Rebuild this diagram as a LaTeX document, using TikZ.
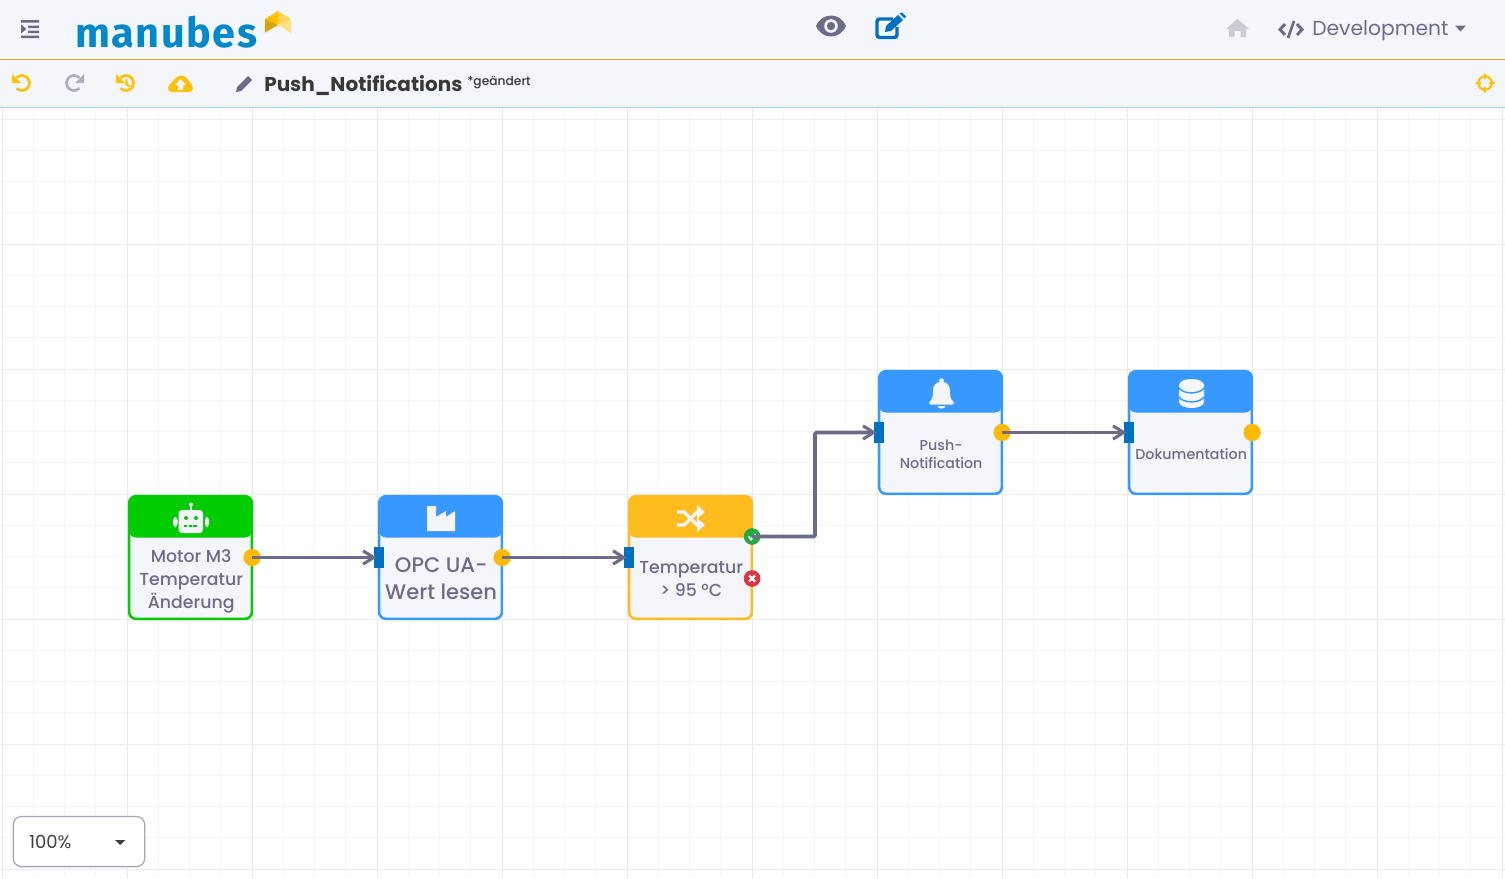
\documentclass[tikz,border=0pt]{standalone}
\usepackage{fontspec}
\setmainfont{Poppins}
\newfontfamily\medfont{Poppins Medium}
\newfontfamily\logofont[LetterSpace=3.8]{Fira Sans}
\usetikzlibrary{positioning,arrows.meta,shadows}

\definecolor{barbg}{HTML}{F4F6FB}
\definecolor{inkgrey}{HTML}{6C6C8A}
\definecolor{okgreen}{HTML}{00CC00}
\definecolor{skyblue}{HTML}{3799FF}
\definecolor{amber}{HTML}{FFBC1F}
\definecolor{portblue}{HTML}{0070C0}
\definecolor{portgold}{HTML}{FFB907}
\definecolor{iconyellow}{HTML}{FFC107}
\definecolor{logoblue}{HTML}{0088CC}
\definecolor{yesgreen}{HTML}{28A745}
\definecolor{nored}{HTML}{DC3545}

\tikzset{
  blockbox/.style={draw=#1,fill=barbg,line width=1.9pt,rounded corners=5pt,
    minimum width=92pt,minimum height=92pt,inner sep=0pt,
    path picture={\fill[#1] (path picture bounding box.north west) rectangle ([yshift=-31pt]path picture bounding box.north east);}},
  blocktext/.style 2 args={text=inkgrey,align=center,inner sep=0pt,font=\medfont\fontsize{#1}{#2}\selectfont},
  inport/.style={fill=portblue,minimum width=7.5pt,minimum height=16pt,inner sep=0pt},
  outport/.style={circle,fill=portgold,minimum size=13pt,inner sep=0pt},
  okport/.style={circle,fill=#1,minimum size=12.5pt,inner sep=0pt},
  wire/.style={draw=inkgrey,line width=2.8pt,shorten >=-2.2pt,-{Straight Barb[length=8pt,width=10pt,line width=2.3pt]}},
  bartext/.style={inner sep=0pt,anchor=base west},
}

\begin{document}
\begin{tikzpicture}[x=0.75pt,y=-0.75pt,node distance=187.5pt,on grid]
 \useasboundingbox (0,0) rectangle (1505,878);
 \fill[white] (0,0) rectangle (1505,878);

 % grid
 \foreach \k in {0,...,48} \draw[black!4,line width=0.5pt] (2+31.25*\k,108) -- (2+31.25*\k,878);
 \foreach \k in {0,...,24} \draw[black!4,line width=0.5pt] (0,119+31.25*\k) -- (1505,119+31.25*\k);
 \foreach \k in {0,...,12} \draw[black!9,line width=0.7pt] (2+125*\k,108) -- (2+125*\k,878);
 \foreach \k in {0,...,6} \draw[black!7,line width=0.7pt] (0,119+125*\k) -- (1505,119+125*\k);

 % bars
 \fill[barbg] (0,0) rectangle (1505,107.5);
 \draw[amber!90!black,line width=0.7pt] (0,59.5) -- (1505,59.5);
 \draw[skyblue!45,line width=0.8pt] (0,107.5) -- (1505,107.5);

 % menu icon
 \fill[inkgrey] (21,20) rectangle (39,22.5) (28,25.5) rectangle (39,28) (28,30.5) rectangle (39,33) (21,35.5) rectangle (39,38)
   (21,24.5) -- (26.5,29) -- (21,33.5) -- cycle;

 % logo
 \node[bartext,text=logoblue,font=\logofont\bfseries\fontsize{31}{32}\selectfont] (logo) at (75,47) {manubes};
 \fill[iconyellow] (265,19) -- (278,11) -- (278,25) -- cycle;
 \fill[iconyellow!70!white] (278,11) -- (291,19) -- (278,25) -- cycle;
 \fill[iconyellow!85!black] (265,19) -- (278,25) -- (265,32.5) -- cycle;
 \fill[iconyellow!50!white] (291,19) -- (291,33) -- (278,25) -- cycle;

 % eye and edit
 \fill[inkgrey] (816,26) .. controls (822,12) and (840,12) .. (846,26) .. controls (840,40) and (822,40) .. (816,26) -- cycle;
 \fill[barbg] (831,26) circle (6.8);
 \fill[inkgrey] (831,26) circle (4.2);
 \draw[portblue,line width=2.6pt,rounded corners=2pt] (893,19) -- (877,19) -- (877,37.5) -- (897,37.5) -- (897,27);
 \fill[portblue] (885,32) -- (886,26) -- (898,15) -- (903,20) -- (891,31) -- cycle (899.5,13.5) -- (902,12.5) -- (906,16.5) -- (904.5,18.5) -- cycle;

 % home and development
 \fill[inkgrey!35] (1226,29) -- (1237.5,19) -- (1249,29) -- (1246,29) -- (1246,37) -- (1240.5,37) -- (1240.5,31) -- (1234.5,31) -- (1234.5,37) -- (1229,37) -- (1229,29) -- cycle;
 \draw[inkgrey,line width=2.2pt] (1285,24) -- (1280,29.5) -- (1285,35) (1297,24) -- (1302,29.5) -- (1297,35);
 \draw[inkgrey,line width=2pt] (1294,21) -- (1288,38);
 \node[bartext,text=inkgrey,font=\fontsize{15.2}{18}\selectfont] (stage) at (1312,35) {Development};
 \fill[inkgrey] (1455,25.5) -- (1466,25.5) -- (1460.5,31.5) -- cycle;

 % toolbar
 \draw[iconyellow,line width=2pt] (16.7,77.7) arc[start angle=-135,end angle=135,radius=7.5];
 \fill[iconyellow] (12,74) -- (12,83) -- (21,83) -- cycle;
 \draw[inkgrey!55,line width=2pt] (79.3,77.7) arc[start angle=-45,end angle=-315,radius=7.5];
 \fill[inkgrey!55] (84,74) -- (84,83) -- (75,83) -- cycle;
 \draw[iconyellow,line width=2pt] (120.7,77.7) arc[start angle=-135,end angle=135,radius=7.5];
 \fill[iconyellow] (116,74) -- (116,83) -- (125,83) -- cycle;
 \draw[iconyellow,line width=1.6pt] (126.5,79) -- (126.5,84.5) -- (130,86.5);
 \fill[iconyellow,rounded corners=3pt] (168,92) -- (168,84) -- (174,82) -- (175,77) -- (185,75) -- (189,82) -- (193,85) -- (193,92) -- cycle;
 \fill[barbg] (180.5,79) -- (186,85) -- (183,85) -- (183,90) -- (178,90) -- (178,85) -- (175,85) -- cycle;
 \fill[inkgrey] (236,92) -- (237,87) -- (247,77) -- (248,76) -- (252,80) -- (241,91) -- cycle;
 \node[bartext,text=black!78,font=\bfseries\fontsize{15}{18}\selectfont] (title) at (264,91) {Push\_Notifications};
 \node[bartext,text=black!78,font=\medfont\fontsize{9.2}{11}\selectfont] (changed) at (467,85) {*geändert};
 \draw[iconyellow,line width=1.6pt] (1485,83) circle (6.8) (1485,73.5) -- (1485,79) (1485,87) -- (1485,92.5) (1475.5,83) -- (1481,83) (1489,83) -- (1494.5,83);

 % blocks
 \node[blockbox=okgreen] (motor) at (190.5,557.5) {};
 \node[blockbox=skyblue] (opc) [right=of motor] {};
 \node[blockbox=amber] (temp) [right=of opc] {};
 \node[blockbox=skyblue] (push) [above right=93.75pt and 187.5pt of temp] {};
 \node[blockbox=skyblue] (doku) [right=of push] {};

 \node[blocktext={13}{17.25}] (motor_text) at ([xshift=.5pt,yshift=-18pt]motor.center) {Motor M3\\Temperatur\\Änderung};
 \node[blocktext={15.8}{20}] (opc_text) at ([xshift=.5pt,yshift=-15.75pt]opc.center) {OPC UA-\\Wert lesen};
 \node[blocktext={13}{17.25}] (temp_text) at ([xshift=.5pt,yshift=-16.5pt]temp.center) {Temperatur\\> 95 °C};
 \node[blocktext={10.7}{13.5}] (push_text) at ([xshift=.5pt,yshift=-16.5pt]push.center) {Push-\\Notification};
 \node[blocktext={10.7}{13.5}] (doku_text) at ([xshift=.5pt,yshift=-16pt]doku.center) {Dokumentation};

 % robot
 \fill[barbg,rounded corners=2.5pt] (178.5,510) rectangle (203,533) (173,517) rectangle (177.5,527) (205,517) rectangle (209,527);
 \fill[barbg] (190,505) rectangle (192,510);
 \fill[barbg] (191,504.5) circle (2);
 \fill[okgreen] (186,518) circle (2) (196,518) circle (2);
 \draw[okgreen,line width=0.8pt,dash pattern=on 2.5pt off 1pt] (184,526) -- (198,526);
 % factory
 \fill[barbg] (427,531) -- (427,506) -- (436,506) -- (436,517) -- (446,511) -- (446,517) -- (455,511) -- (455,531) -- cycle;
 % shuffle
 \draw[barbg,line width=2.4pt,-{Triangle[length=6pt,width=10pt]}] (677,512) -- (684,512) -- (697,525) -- (705,525);
 \draw[barbg,line width=2.4pt,-{Triangle[length=6pt,width=10pt]}] (677,525) -- (684,525) -- (697,512) -- (705,512);
 % bell
 \fill[barbg] (941.5,380.5) circle (2.3);
 \fill[barbg,rounded corners=1pt] (929,404.5) -- (929,402) .. controls (933,399) and (933,394) .. (933,391) .. controls (933,385) and (937,382) .. (941.5,382) .. controls (946,382) and (950,385) .. (950,391) .. controls (950,394) and (950,399) .. (954,402) -- (954,404.5) -- cycle;
 \fill[barbg] (937.5,406) .. controls (938,409.5) and (945,409.5) .. (945.5,406) -- cycle;
 % database
 \fill[barbg] (1179,385) .. controls (1180,377) and (1203,377) .. (1204,385) -- (1204,402) .. controls (1203,410) and (1180,410) .. (1179,402) -- cycle;
 \draw[skyblue,line width=1.1pt] (1179,388) .. controls (1183,394.5) and (1200,394.5) .. (1204,388)
   (1179,397) .. controls (1183,403.5) and (1200,403.5) .. (1204,397);

 % ports
 \node[inport] (opc_in) at ([xshift=.75pt]opc.west) {};
 \node[inport] (temp_in) at ([xshift=.75pt]temp.west) {};
 \node[inport] (push_in) at ([xshift=.75pt]push.west) {};
 \node[inport] (doku_in) at ([xshift=.75pt]doku.west) {};
 \node[outport] (motor_out) at ([xshift=-.75pt]motor.east) {};
 \node[outport] (opc_out) at ([xshift=-.75pt]opc.east) {};
 \node[outport] (push_out) at ([xshift=-.75pt]push.east) {};
 \node[outport] (doku_out) at ([xshift=-.75pt]doku.east) {};
 \node[okport=yesgreen] (temp_yes) at ([xshift=-.75pt,yshift=15.75pt]temp.east) {};
 \node[okport=nored] (temp_no) at ([xshift=-.75pt,yshift=-15.75pt]temp.east) {};
 \draw[white,line width=1.3pt] ([shift={(-3.5,0)}]temp_yes.center) -- ++(2.5,3) -- ++(4.5,-5.5);
 \draw[white,line width=1.7pt] ([shift={(-3,-3)}]temp_no.center) -- ++(6,6) ([shift={(3,-3)}]temp_no.center) -- ++(-6,6);

 % connectors
 \draw[wire] (motor_out.center) -- (opc_in.west);
 \draw[wire] (opc_out.center) -- (temp_in.west);
 \draw[wire,rounded corners=1pt] (temp_yes.center) -- ++(63,0) |- (push_in.west);
 \draw[wire] (push_out.center) -- (doku_in.west);

 % zoom box
 \node[draw=inkgrey!60,fill=white,rounded corners=6pt,line width=0.9pt,minimum width=98.5pt,minimum height=37.5pt,drop shadow={shadow xshift=0pt,shadow yshift=-1pt,opacity=.15}] (zoombox) at (79,841.5) {};
 \node[bartext,text=black!75,font=\fontsize{13.5}{15}\selectfont] (zoomtext) at (29,848) {100\%};
 \fill[black!75] (115,840) -- (125.5,840) -- (120.2,845) -- cycle;
\end{tikzpicture}
\end{document}
